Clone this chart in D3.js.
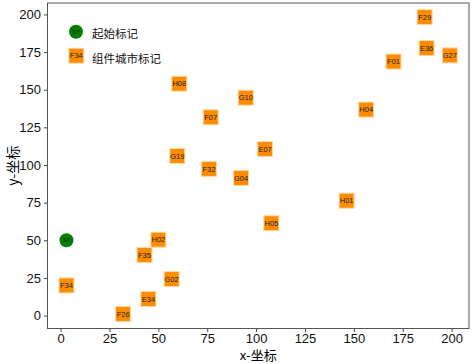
<!DOCTYPE html>
<html>
<head>
<meta charset="utf-8">
<script src="https://cdn.jsdelivr.net/npm/d3@7"></script>
<style>
body { margin: 0; background: #fff; }
svg text { font-family: "Liberation Sans", Arial, sans-serif; }
.cjk { font-family: "Noto Sans CJK SC", sans-serif; }
</style>
</head>
<body>
<div id="chart"></div>
<script>
// start marker
const startName = ['ST'];
const startX = [3];
const startY = [50];

// city markers
const cityNames = ['H08', 'F07', 'G19', 'F32', 'G04', 'F29', 'E36', 'G27', 'F01', 'G10', 'H04', 'E07',
	'F34', 'H02', 'F35', 'G02', 'E34', 'F26', 'H01', 'H05'];
const cityX = [60.7, 76.8, 59.7, 75.9, 92.3, 186.2, 187.2, 199.1, 170.3, 94.7, 156.3, 104.6,
	3, 50, 42.9, 56.8, 44.9, 32, 146.3, 107.8];
const cityY = [154, 131.7, 106, 97.4, 91.4, 198.2, 177.7, 172.8, 168.7, 144.7, 136.8, 110.6,
	20, 50.4, 40.2, 24.2, 11, 1.1, 76.3, 61.3];

const xTicks = [0, 25, 50, 75, 100, 125, 150, 175, 200];
const yTicks = [0, 25, 50, 75, 100, 125, 150, 175, 200];
const legendLabels = ['起始标记', '组件城市标记'];

// set the dimensions and margins of the graph
const W = 472, H = 364;
const margin = { top: 3, right: 3, bottom: 35.5, left: 47.5 };

const svg = d3.select('#chart').append('svg')
	.attr('width', W)
	.attr('height', H);

const x = d3.scaleLinear().domain([-6.7, 208.9]).range([margin.left, W - margin.right]);
const y = d3.scaleLinear().domain([-8.6, 207.6]).range([H - margin.bottom, margin.top]);

// axes
const xAxis = svg.append('g')
	.attr('transform', `translate(0,${H - margin.bottom})`)
	.call(d3.axisBottom(x).tickValues(xTicks).tickSize(3.5).tickPadding(2).tickSizeOuter(0));
const yAxis = svg.append('g')
	.attr('transform', `translate(${margin.left},0)`)
	.call(d3.axisLeft(y).tickValues(yTicks).tickSize(3.5).tickPadding(3).tickSizeOuter(0));
[xAxis, yAxis].forEach((g) => {
	g.selectAll('text').style('font-size', '13px').attr('fill', '#111');
	g.selectAll('line').attr('stroke', '#444');
	g.select('.domain').remove();
});

// frame
svg.append('rect')
	.attr('x', margin.left)
	.attr('y', margin.top)
	.attr('width', W - margin.left - margin.right)
	.attr('height', H - margin.top - margin.bottom)
	.attr('fill', 'none')
	.attr('stroke', '#555')
	.attr('stroke-width', 1);

// axis titles
svg.append('text')
	.attr('class', 'cjk')
	.attr('x', (margin.left + W - margin.right) / 2)
	.attr('y', 360)
	.attr('text-anchor', 'middle')
	.style('font-size', '13px')
	.text('x-坐标');
svg.append('text')
	.attr('class', 'cjk')
	.attr('transform', `translate(18,${(margin.top + H - margin.bottom) / 2}) rotate(-90)`)
	.attr('text-anchor', 'middle')
	.style('font-size', '14px')
	.text('y-坐标');

// city squares
const cities = cityNames.map((n, i) => ({ name: n, x: cityX[i], y: cityY[i] }));
const cg = svg.append('g').selectAll('g').data(cities).join('g')
	.attr('transform', (d) => `translate(${x(d.x)},${y(d.y)})`);
cg.append('rect')
	.attr('x', -7.5).attr('y', -7.5)
	.attr('width', 15).attr('height', 15)
	.attr('fill', '#ff8c00')
	.attr('stroke', '#ffd9a8')
	.attr('stroke-width', 1);
cg.append('text')
	.attr('text-anchor', 'middle')
	.attr('dy', '0.35em')
	.style('font-size', '7.5px')
	.attr('fill', '#222')
	.text((d) => d.name);

// start circle
const sg = svg.append('g').selectAll('g').data(startName.map((n, i) => ({ name: n, x: startX[i], y: startY[i] })))
	.join('g')
	.attr('transform', (d) => `translate(${x(d.x)},${y(d.y)})`);
sg.append('circle').attr('r', 7).attr('fill', '#008000');
sg.append('text')
	.attr('text-anchor', 'middle')
	.attr('dy', '0.35em')
	.style('font-size', '6px')
	.attr('fill', '#111')
	.text((d) => d.name);

// legend
const lg = svg.append('g');
const l1 = lg.append('g').attr('transform', 'translate(76,31.7)');
l1.append('circle').attr('r', 7).attr('fill', '#008000');
l1.append('text').attr('text-anchor', 'middle').attr('dy', '0.35em').style('font-size', '6px').attr('fill', '#111').text('ST');
const l2 = lg.append('g').attr('transform', 'translate(76.3,55.7)');
l2.append('rect').attr('x', -7.5).attr('y', -7.5).attr('width', 15).attr('height', 15)
	.attr('fill', '#ff8c00').attr('stroke', '#ffd9a8');
l2.append('text').attr('text-anchor', 'middle').attr('dy', '0.35em').style('font-size', '7.5px').attr('fill', '#222').text('F34');
legendLabels.forEach((t, i) => {
	lg.append('text')
		.attr('class', 'cjk')
		.attr('x', 92)
		.attr('y', 38 + i * 24.5)
		.style('font-size', '11.5px')
		.attr('fill', '#111')
		.text(t);
});
</script>
</body>
</html>
